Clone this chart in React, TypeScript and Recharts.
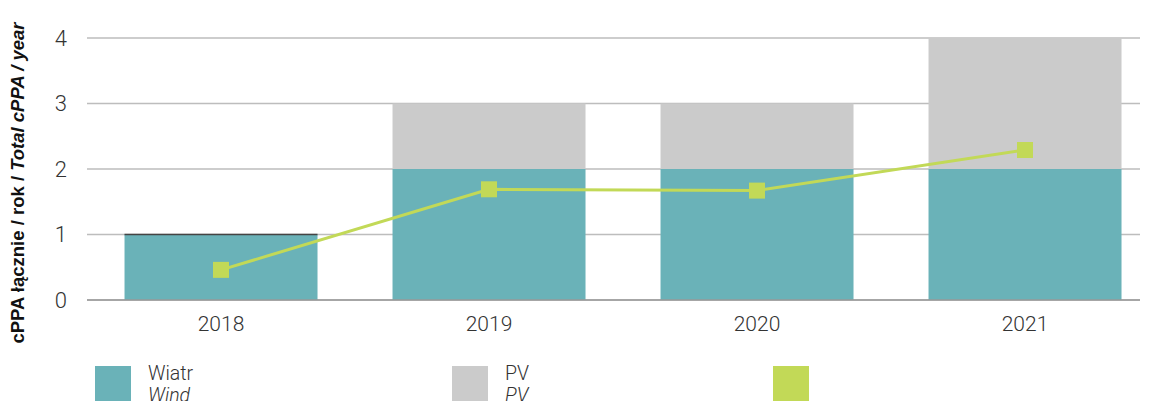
import { ComposedChart, Bar, Line, XAxis, YAxis, CartesianGrid, Legend } from 'recharts';

const years = ['2018', '2019', '2020', '2021'];
const wind = [1, 2, 2, 2];
const pv = [0, 1, 1, 2];
const total = [0.46, 1.69, 1.67, 2.29];
const yTicks = [0, 1, 2, 3, 4];

const data = years.map((year, i) => ({ year, wind: wind[i], pv: pv[i], total: total[i] }));

const legendItems = [
  { color: '#6ab2b8', pl: 'Wiatr', en: 'Wind', left: 95 },
  { color: '#cbcbcb', pl: 'PV', en: 'PV', left: 452 },
  { color: '#c2d957', pl: '', en: '', left: 773 },
];

const PvShape = (props: any) => {
  const { x, y, width, height, fill } = props;
  if (!height) return <line x1={x} x2={x + width} y1={y} y2={y} stroke="#444" strokeWidth={1.5} />;
  return <rect x={x} y={y} width={width} height={height} fill={fill} />;
};

const SquareDot = (props: any) => {
  const { cx, cy } = props;
  return <rect x={cx - 8} y={cy - 8} width={16} height={16} fill="#c2d957" />;
};

const YLabel = () => (
  <text
    transform="translate(24 183) rotate(-90)"
    textAnchor="middle"
    fontFamily="'Liberation Sans', Arial, sans-serif"
    fontSize={18.5}
    fontWeight="bold"
    fill="#111"
  >
    cPPA łącznie / rok / <tspan fontStyle="italic">Total cPPA / year</tspan>
  </text>
);

const LegendContent = () => (
  <div style={{ position: 'relative', height: 40, fontFamily: 'Roboto, sans-serif', fontWeight: 300, color: '#333' }}>
    {legendItems.map(it => (
      <div key={it.left} style={{ position: 'absolute', left: it.left, top: 0, display: 'flex' }}>
        <div style={{ width: 36, height: 36, background: it.color }} />
        <div style={{ marginLeft: 17, fontSize: 19.5, lineHeight: '22px', marginTop: -3 }}>
          <div>{it.pl}</div>
          <div style={{ fontStyle: 'italic' }}>{it.en}</div>
        </div>
      </div>
    ))}
  </div>
);

export default function App() {
  return (
    <div style={{ position: 'absolute', left: 0, top: 0, width: 1154, height: 401, overflow: 'hidden', background: '#fff' }}>
      <ComposedChart
        width={1154}
        height={401}
        data={data}
        margin={{ top: 38, right: 14, left: 0, bottom: 31 }}
        barCategoryGap="14%"
      >
        <CartesianGrid vertical={false} stroke="#bdbdbd" strokeWidth={1.5} />
        <XAxis
          dataKey="year"
          axisLine={{ stroke: '#999', strokeWidth: 1.5 }}
          tickLine={false}
          tick={{ fontSize: 21, fill: '#333', fontFamily: 'Roboto', fontWeight: 300 }}
          tickMargin={10}
          padding={{ left: 0, right: -19 }}
        />
        <YAxis
          width={87}
          domain={[0, 4]}
          ticks={yTicks}
          axisLine={false}
          tickLine={false}
          tick={{ fontSize: 22, fill: '#333', fontFamily: 'Roboto', fontWeight: 300 }}
          tickMargin={14}
          label={<YLabel />}
        />
        <Legend
          verticalAlign="bottom"
          content={<LegendContent />}
          wrapperStyle={{ left: 0, top: 366, width: 1154 }}
        />
        <Bar dataKey="wind" stackId="a" fill="#6ab2b8" isAnimationActive={false} />
        <Bar dataKey="pv" stackId="a" fill="#cbcbcb" shape={<PvShape />} isAnimationActive={false} />
        <Line
          dataKey="total"
          stroke="#c2d957"
          strokeWidth={3}
          dot={<SquareDot />}
          activeDot={false}
          isAnimationActive={false}
        />
      </ComposedChart>
    </div>
  );
}
